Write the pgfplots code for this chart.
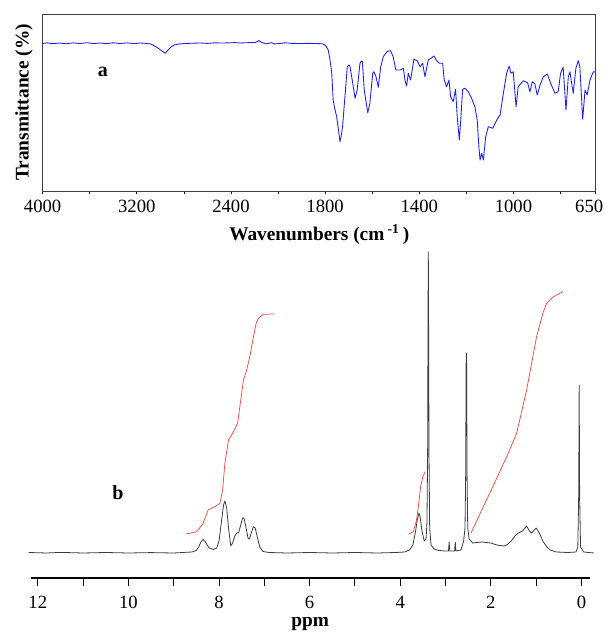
\documentclass[border=0pt]{standalone}
\usepackage{fontspec}
\setmainfont{Liberation Serif}
\usepackage{pgfplots}
\pgfplotsset{compat=1.18}
\definecolor{irblue}{RGB}{30,30,245}
\definecolor{intred}{RGB}{250,70,70}
\definecolor{nmrgray}{RGB}{60,60,60}
\begin{document}
\begin{tikzpicture}
\useasboundingbox (0,0) rectangle (453.75pt,478.5pt);
% ---------------- (a) IR spectrum ----------------
\begin{axis}[
  at={(32.0pt,335.25pt)}, anchor=south west,
  scale only axis, width=414.9pt, height=132.75pt,
  xmin=0, xmax=2350, ymin=0, ymax=177,
  axis line style={draw=black!75, line width=0.7pt},
  xtick={0,400,800,1200,1600,2000,2350},
  xticklabels={4000,3200,2400,1800,1400,1000,\kern-5pt 650\kern5pt},
  minor xtick={200,600,1000,1400,1800,2200},
  ytick=\empty,
  xtick pos=bottom, tick align=outside,
  major tick length=2pt, minor tick length=2pt,
  every tick/.style={black, line width=0.6pt},
  /pgf/number format/assume math mode=true,
  ticklabel style={font=\fontsize{14}{16}\selectfont, yshift=-1.5pt},
  xlabel={Wavenumbers (cm\,\textsuperscript{-1}\,)},
  xlabel style={font=\bfseries\fontsize{14.5}{17}\selectfont, yshift=-2pt},
  ylabel={Transmittance (\%)},
  every axis y label/.style={at={(axis description cs:-0.034,0.5)}, rotate=90, anchor=center,
    font=\bfseries\fontsize{14.5}{17}\selectfont},
]
\addplot[irblue, line width=0.65pt, line join=round] coordinates {
(0,147.5) (20,148.2) (40,147.3) (73,148) (100,147.2) (130,148.1) (158,147.5) (190,148.3) (215,147.4) (243,148) (270,147.3) (300,148.2) (328,147.5) (360,148.1) (390,147.4) (413,148) (440,147.6) (459,147) (475,145) (490,143) (507,140) (521,137.7) (532,141) (545,144) (558,146) (580,147) (604,147.5) (640,147.8) (668,148) (700,147.6) (730,148.2) (753,148) (790,148.1) (815,148.4) (838,148) (870,148.3) (902,148.5) (912,149.5) (919,150.5) (925,149.3) (931,148.5) (950,147.2) (970,148.3) (985,147.1) (1008,147.5) (1030,148.2) (1060,147.6) (1093,147.5) (1130,147.6) (1157,147.5) (1180,147.3) (1192,147) (1203,145) (1213,141) (1220,132) (1228,118) (1234,91) (1240,83) (1249,74.3) (1256,62) (1263,49.3) (1268,55) (1274,64.3) (1284,94.3) (1294,124.3) (1300,126) (1305,125) (1315,111) (1327,92.7) (1336,101) (1348,127.7) (1353,130) (1358,129.3) (1366,101) (1381,78.3) (1390,87.7) (1402,117.7) (1407,119.3) (1416,114.3) (1426,103.7) (1436,124.3) (1447,134.3) (1464,139.7) (1478,140.3) (1489,134.3) (1500,121) (1518,121) (1532,122.7) (1539,111) (1546,105) (1553,117.7) (1563,111) (1577,131.7) (1591,130.3) (1603,124.3) (1614,127.7) (1624,114.3) (1638,131) (1650,132.7) (1662,135) (1674,130.3) (1685,127.7) (1699,127.7) (1706,111) (1716,104.3) (1726,111) (1733,94.3) (1744,89.3) (1754,101.7) (1761,74.3) (1770,51) (1776,71) (1784,101.7) (1794,102.7) (1808,99.3) (1822,92.7) (1836,84.3) (1846,71) (1853,44.3) (1858,31) (1865,37.7) (1872,31) (1882,54.3) (1893,64.3) (1912,62.7) (1929,71) (1943,76) (1957,97.7) (1971,117.7) (1982,125) (1989,117.7) (1999,119.3) (2011,84.3) (2020,104.3) (2042,110.3) (2060,108.3) (2070,99.3) (2080,109.3) (2091,107) (2101,96) (2113,106) (2127,114.3) (2144,117) (2158,107.7) (2176,97.7) (2190,99.3) (2200,117.7) (2211,123.7) (2223,81) (2233,114.3) (2240,119.3) (2247,107.7) (2254,97.7) (2265,122.7) (2275,130.3) (2282,124.3) (2294,71.7) (2304,101) (2313,96) (2325,111) (2339,119.3) (2346,119)
};
\node[font=\bfseries\fontsize{15}{17}\selectfont] at (axis cs:256,119) {a};
\end{axis}
% ---------------- (b) 1H NMR spectrum ----------------
\begin{axis}[
  at={(23.25pt,45pt)}, anchor=south west,
  scale only axis, width=418.95pt, height=249.75pt,
  x dir=reverse, xmin=-0.18, xmax=12.15, ymin=-25, ymax=308,
  clip=false,
  axis x line=bottom, axis y line=none,
  axis line style={-, black, line width=0.8pt},
  xtick={0,2,4,6,8,10,12},
  minor xtick={1,3,5,7,9,11},
  tick align=outside,
  major tick length=5.8pt, minor tick length=5.8pt,
  every tick/.style={black, line width=0.7pt},
  /pgf/number format/assume math mode=true,
  ticklabel style={font=\fontsize{14}{16}\selectfont, yshift=-4pt},
  xlabel={ppm},
  xlabel style={font=\bfseries\fontsize{14.5}{17}\selectfont, yshift=0pt},
]
\addplot[nmrgray, line width=0.6pt, line join=round] coordinates {
(12.2,0.5) (11.8,0) (11.5,0.6) (11.0,0) (10.5,0.5) (10.0,0) (9.5,0.4) (9.0,0) (8.8,0.5) (8.6,1) (8.5,2.5) (8.45,6) (8.40,11) (8.35,13.7) (8.30,11) (8.22,5) (8.12,3.5) (8.05,5) (8.00,12) (7.95,30) (7.90,48) (7.87,52) (7.83,45) (7.79,25) (7.74,7) (7.70,10) (7.65,17) (7.60,20.3) (7.57,20) (7.52,28) (7.48,35) (7.45,35) (7.41,27) (7.36,15) (7.33,14) (7.28,21) (7.24,26.3) (7.20,25) (7.15,15) (7.10,6) (7.03,1.5) (6.9,0.5) (6.5,0) (6.0,0.5) (5.5,0) (5.0,0.5) (4.5,0) (4.1,0.5) (3.9,1) (3.8,3) (3.72,8) (3.66,22) (3.62,34) (3.585,40) (3.56,36) (3.52,22) (3.47,12) (3.43,14) (3.41,30) (3.395,100) (3.385,250) (3.38,301) (3.375,250) (3.365,100) (3.35,25) (3.32,8) (3.25,4) (3.15,2.5) (3.0,2) (2.935,2) (2.92,11) (2.905,2) (2.80,2) (2.785,11) (2.77,2) (2.66,3) (2.60,12) (2.57,25) (2.555,80) (2.545,190) (2.54,200) (2.535,190) (2.525,80) (2.51,25) (2.48,14) (2.40,10) (2.35,10.3) (2.2,11) (2.0,10) (1.87,8) (1.72,7) (1.65,8) (1.55,12) (1.45,18) (1.39,20) (1.30,22) (1.21,27) (1.15,22) (1.10,20) (1.0,25) (0.93,20) (0.84,11) (0.76,6) (0.69,3) (0.55,1) (0.3,0.5) (0.12,1) (0.08,6) (0.06,60) (0.05,168) (0.04,60) (0.02,6) (-0.05,1) (-0.15,0.5) (-0.28,0)
};
\addplot[intred, line width=0.55pt, line join=round] coordinates {
(8.73,19) (8.49,21.3) (8.35,29.7) (8.24,43) (8.09,46.3) (7.98,49.7) (7.92,63) (7.87,90) (7.79,113) (7.68,121.3) (7.59,129.7) (7.54,146.3) (7.46,173) (7.39,183) (7.32,196.3) (7.24,216.3) (7.18,229.7) (7.13,234.7) (7.02,238.7) (6.78,239)
};
\addplot[intred, line width=0.55pt, line join=round] coordinates {
(3.81,19) (3.71,21.3) (3.64,33) (3.59,49.7) (3.55,66.3) (3.50,76.3) (3.45,81.3)
};
\addplot[intred, line width=0.55pt, line join=round] coordinates {
(2.44,19.7) (2.2,43) (1.95,67) (1.65,96.3) (1.43,119.7) (1.21,163) (0.99,216.3) (0.85,240) (0.77,249.7) (0.62,256.3) (0.41,261.3)
};
\node[font=\bfseries\fontsize{15}{17}\selectfont] at (axis cs:10.23,60) {b};
\end{axis}
\end{tikzpicture}
\end{document}
